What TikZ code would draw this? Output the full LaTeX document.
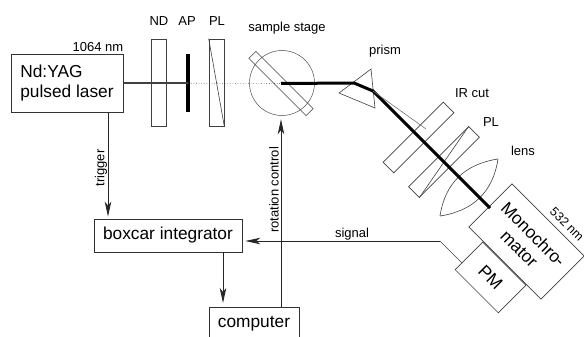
\documentclass[tikz,border=0pt]{standalone}
\usepackage{fontspec}
\setmainfont{Liberation Sans}
\usetikzlibrary{arrows.meta,calc}

\begin{document}
\begin{tikzpicture}[
  x=1pt, y=-1pt, >={Stealth[length=15pt,width=6.5pt,inset=4pt]},
  instr/.style={rectangle,draw=black!80,line width=0.7pt,inner sep=0pt,font=\fontsize{17.3}{20}\selectfont},
  optic/.style={rectangle,draw=black!75,line width=0.6pt,inner sep=0pt},
  lbl/.style={inner sep=0pt,font=\fontsize{13}{15}\selectfont},
  arr/.style={->,draw=black!85,line width=0.9pt},
  beam/.style={draw=black,line width=3pt,line join=round},
  thinline/.style={draw=black!75,line width=0.6pt}]
\useasboundingbox (0,0) rectangle (584,337);
% laser and detection boxes
\node[instr,align=left,minimum width=112pt,minimum height=58pt] (laser) at (67,83) {Nd:YAG\\pulsed laser};
\node[instr,minimum width=148pt,minimum height=33pt] (boxcar) at (168,235.5) {boxcar integrator};
\node[instr,minimum width=90pt,minimum height=32pt,anchor=north] (computer) at (254,307) {computer};
\node[optic,minimum width=102pt,minimum height=61pt,rotate=-45,font=\fontsize{17.3}{20}\selectfont,align=center] (mono) at (526.5,241.5) {Monochro-\\mator};
\node[optic,minimum width=61pt,minimum height=39pt,rotate=-45,font=\fontsize{17.3}{20}\selectfont] (pm) at (490.5,277.5) {PM};
% optics
\node[optic,minimum width=15pt,minimum height=87pt] (nd) at (158.5,82.5) {};
\node[fill=black,inner sep=0pt,minimum width=3.5pt,minimum height=58pt] (ap) at (188,83) {};
\node[optic,minimum width=15pt,minimum height=87pt] (pol) at (216.5,82.5) {};
\node[circle,draw=black!70,line width=0.5pt,minimum size=65pt,inner sep=0pt] (stagering) at (282,83) {};
\node[optic,minimum width=81pt,minimum height=10pt,rotate=-45] (stage) at (281,83.5) {};
\node[optic,minimum width=15pt,minimum height=85pt,rotate=-45] (ircut) at (418.5,137.5) {};
\node[optic,minimum width=15pt,minimum height=85pt,rotate=-45] (polb) at (444,162) {};
\coordinate (pa) at (371,69);
\coordinate (pb) at (339,93);
\coordinate (pc) at (375,108);
\coordinate (lensa) at (498,159);
\coordinate (lensb) at (440,216);
\coordinate (bendp) at (354,83);
\coordinate (bendq) at (373,91);
\coordinate (beamend) at (490,208);
\coordinate (strayend) at (426,129);
\draw[optic] (pol.north west) -- (pol.south east);
\draw[optic] (polb.north west) -- (polb.south east);
\draw[optic] (pa) -- (pb) -- (pc) -- cycle;
\draw[optic] (lensa) .. controls (493,192) and (473,211) .. (lensb);
\draw[optic] (lensa) .. controls (465,164) and (445,183) .. (lensb);
% beams
\draw[draw=black!70,line width=0.6pt,dotted] (laser.east) -- (stage.center);
\draw[draw=black!75,line width=1.5pt] (laser.east) -- (ap.center);
\draw[beam] (stage.center) -- (bendp) -- (bendq) -- (beamend);
\draw[thinline,black!55] (bendq) -- (strayend);
% signals
\coordinate (trigtop) at (108,112);
\coordinate (bcout) at (223,252);
\coordinate (rotfoot) at (281,307);
\coordinate (sigbend) at (440,241);
\coordinate (sigstart) at ($(pm.north west)!.75!(pm.south west)$);
\draw[arr,shorten >=2pt] (trigtop) -- (trigtop |- boxcar.north);
\draw[arr,shorten >=4pt] (bcout) -- (bcout |- computer.north);
\draw[arr,shorten >=3.5pt] (rotfoot) -- (rotfoot |- stagering.south);
\draw[thinline] (sigstart) -- (sigbend);
\draw[arr,shorten >=3pt] (sigbend) -- (sigbend -| boxcar.east);
% labels
\node[lbl] (lasernm) at (98,47) {1064 nm};
\node[lbl] (ndl) at (159,21) {ND};
\node[lbl] (apl) at (187,21) {AP};
\node[lbl] (pll) at (217,21) {PL};
\node[lbl] (stagel) at (287,28) {sample stage};
\node[lbl] (prisml) at (385,51) {prism};
\node[lbl] (irl) at (472,93) {IR cut};
\node[lbl] (plbl) at (491,122) {PL};
\node[lbl] (lensl) at (523,151) {lens};
\node[lbl] (sigl) at (352,234) {signal};
\node[lbl,rotate=90] (trigl) at (101,168) {trigger};
\node[lbl,rotate=90] (rotl) at (274,190) {rotation control};
\node[lbl,rotate=-45,font=\fontsize{12.5}{15}\selectfont] (greenl) at (567,224) {532 nm};
\end{tikzpicture}
\end{document}
